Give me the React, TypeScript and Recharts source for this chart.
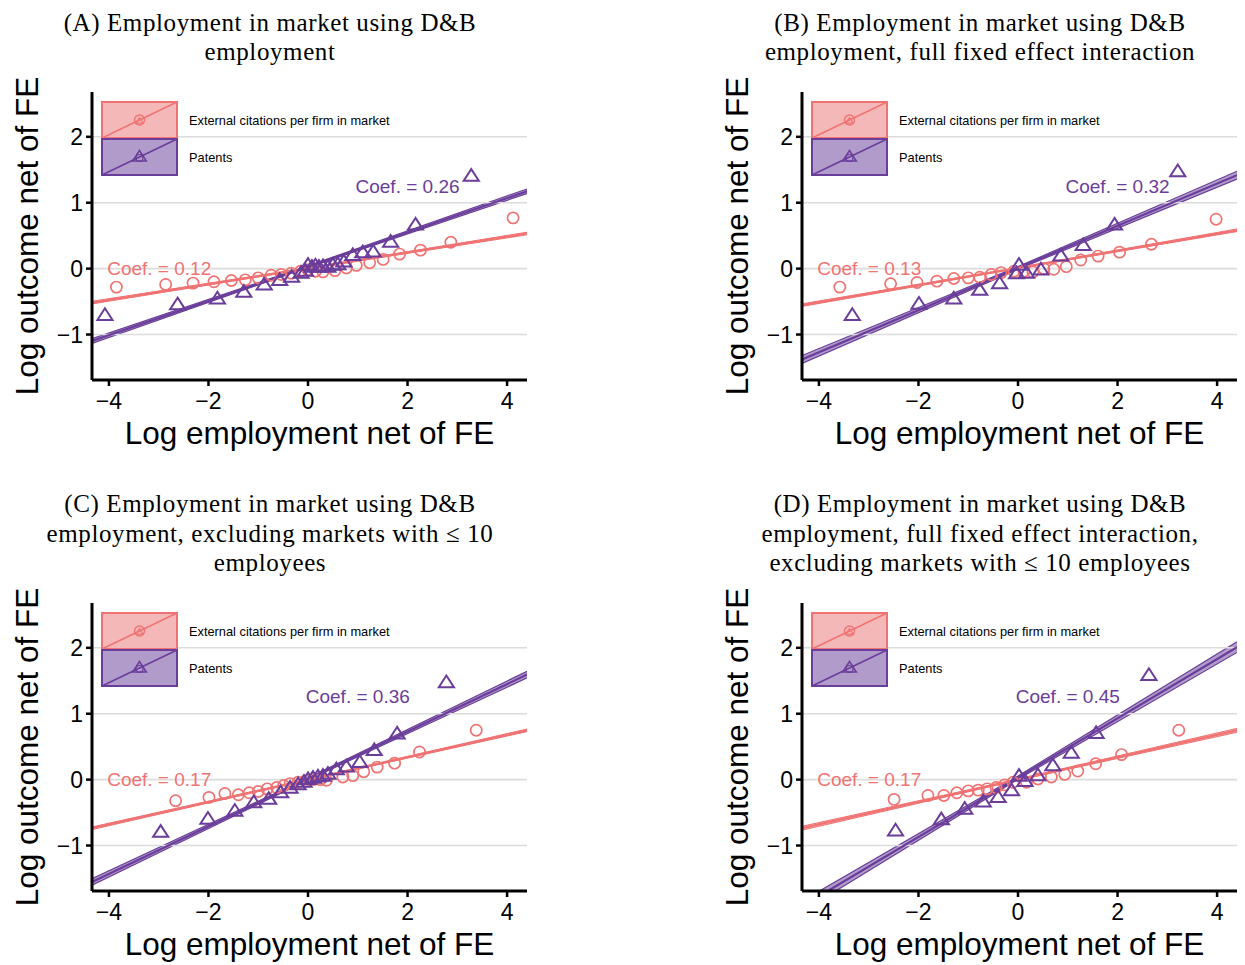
import React from 'react';
import { ComposedChart, Scatter, Line, Area, XAxis, YAxis, ReferenceLine, ReferenceDot } from 'recharts';

const RED = '#F07373';
const RED_FILL = '#F5B8B8';
const PURPLE = '#6A3D9A';
const PURPLE_FILL = '#B09BCB';
const GRID = '#DCDCDC';
const SANS = '"Liberation Sans", Arial, Helvetica, sans-serif';
const SERIF = '"Liberation Serif", "Times New Roman", serif';

// ---------- Panel A ----------
const citAX = [-3.85, -2.86, -2.31, -1.89, -1.54, -1.26, -1.0, -0.74, -0.54, -0.34, -0.15, 0.0, 0.15, 0.30, 0.54, 0.77, 0.97, 1.24, 1.51, 1.84, 2.26, 2.87, 4.12];
const citAY = [-0.28, -0.24, -0.22, -0.20, -0.18, -0.17, -0.14, -0.10, -0.09, -0.07, -0.04, -0.02, -0.04, -0.05, -0.03, 0.01, 0.05, 0.09, 0.14, 0.22, 0.28, 0.40, 0.77];
const patAX = [-4.08, -2.62, -1.82, -1.29, -0.88, -0.57, -0.33, -0.14, -0.05, 0.0, 0.08, 0.15, 0.22, 0.30, 0.40, 0.50, 0.60, 0.72, 0.90, 1.10, 1.31, 1.66, 2.16, 3.28];
const patAY = [-0.71, -0.55, -0.46, -0.36, -0.25, -0.18, -0.13, -0.07, -0.04, 0.05, 0.02, 0.04, 0.02, 0.03, 0.02, 0.05, 0.06, 0.10, 0.20, 0.24, 0.25, 0.40, 0.66, 1.40];

// ---------- Panel B ----------
const citBX = [-3.58, -2.56, -2.03, -1.63, -1.29, -1.0, -0.77, -0.54, -0.34, -0.08, 0.12, 0.30, 0.52, 0.72, 0.97, 1.26, 1.61, 2.04, 2.68, 3.98];
const citBY = [-0.28, -0.23, -0.21, -0.19, -0.15, -0.14, -0.13, -0.09, -0.06, -0.04, -0.04, -0.05, 0.0, -0.01, 0.03, 0.13, 0.19, 0.25, 0.37, 0.75];
const patBX = [-3.33, -1.99, -1.29, -0.77, -0.37, -0.03, 0.02, 0.17, 0.46, 0.86, 1.31, 1.94, 3.21];
const patBY = [-0.71, -0.54, -0.46, -0.33, -0.23, -0.08, 0.05, -0.07, -0.02, 0.19, 0.35, 0.66, 1.47];

// ---------- Panel C ----------
const citCX = [-2.66, -1.99, -1.67, -1.40, -1.18, -1.0, -0.82, -0.63, -0.49, -0.36, -0.20, -0.05, 0.10, 0.25, 0.37, 0.70, 0.90, 1.12, 1.39, 1.74, 2.24, 3.38];
const citCY = [-0.32, -0.27, -0.21, -0.23, -0.20, -0.18, -0.14, -0.12, -0.09, -0.06, -0.04, -0.02, 0.0, 0.0, -0.01, 0.04, 0.06, 0.12, 0.19, 0.25, 0.42, 0.75];
const patCX = [-2.96, -2.01, -1.47, -1.09, -0.79, -0.55, -0.36, -0.20, -0.08, 0.0, 0.10, 0.20, 0.30, 0.40, 0.57, 0.77, 1.04, 1.33, 1.79, 2.78];
const patCY = [-0.80, -0.60, -0.48, -0.35, -0.30, -0.20, -0.13, -0.08, -0.04, 0.0, 0.02, 0.04, 0.05, 0.08, 0.15, 0.19, 0.26, 0.44, 0.69, 1.47];

// ---------- Panel D ----------
const citDX = [-2.49, -1.81, -1.49, -1.23, -1.0, -0.80, -0.62, -0.44, -0.27, -0.10, 0.17, 0.40, 0.67, 0.94, 1.20, 1.56, 2.08, 3.23];
const citDY = [-0.30, -0.24, -0.24, -0.20, -0.17, -0.16, -0.14, -0.12, -0.08, -0.04, -0.04, 0.01, 0.04, 0.08, 0.13, 0.24, 0.38, 0.75];
const patDX = [-2.46, -1.54, -1.07, -0.70, -0.40, -0.13, 0.02, 0.14, 0.40, 0.70, 1.07, 1.57, 2.63];
const patDY = [-0.78, -0.61, -0.45, -0.34, -0.27, -0.17, 0.05, -0.03, 0.06, 0.21, 0.40, 0.70, 1.58];

// Regression fits (coefficient = slope), intercepts and CI half-widths (ends, centre)
const coefCit = [0.12, 0.13, 0.17, 0.17];
const coefPat = [0.26, 0.32, 0.36, 0.45];
const interceptCit = [0.005, 0.01, 0.0, 0.0];
const interceptPat = [0.03, 0.01, 0.01, 0.03];
const bandCitEnd = [0.02, 0.02, 0.02, 0.03];
const bandCitMid = [0.008, 0.008, 0.008, 0.01];
const bandPatEnd = [0.035, 0.06, 0.05, 0.08];
const bandPatMid = [0.012, 0.02, 0.015, 0.025];

// Coefficient label positions (data coords)
const coefPatPosX = [2.0, 2.0, 1.0, 1.0];
const coefPatPosY = [1.25, 1.25, 1.26, 1.26];
const coefCitPosX = [-2.99, -2.99, -2.99, -2.99];
const coefCitPosY = [0.0, 0.0, 0.0, 0.0];

const titles = [
  ['(A) Employment in market using D&B', 'employment'],
  ['(B) Employment in market using D&B', 'employment, full fixed effect interaction'],
  ['(C) Employment in market using D&B', 'employment, excluding markets with \u2264 10', 'employees'],
  ['(D) Employment in market using D&B', 'employment, full fixed effect interaction,', 'excluding markets with \u2264 10 employees'],
];

const legendLabels = ['External citations per firm in market', 'Patents'];
const xLabel = 'Log employment net of FE';
const yLabel = 'Log outcome net of FE';

const X_DOMAIN = [-4.34, 4.4];
const Y_DOMAIN = [-1.69, 2.68];
const X_TICKS = [-4, -2, 0, 2, 4];
const Y_TICKS = [-1, 0, 1, 2];
const FIT_X = [-4.34, 0, 4.4];

const CHART_W = 535;
const CHART_H = 470;
const MARGIN = { top: 92, right: 8, bottom: 50, left: 32 };
const PANEL_POS = [
  [0, 0],
  [710, 0],
  [0, 511],
  [710, 511],
];

const cits = [
  [citAX, citAY],
  [citBX, citBY],
  [citCX, citCY],
  [citDX, citDY],
];
const pats = [
  [patAX, patAY],
  [patBX, patBY],
  [patCX, patCY],
  [patDX, patDY],
];

const fmt = (v: number) => (v < 0 ? '\u2212' + Math.abs(v) : String(v));

const circleShape = (props: any) => (
  <circle cx={props.cx} cy={props.cy} r={5.6} fill="none" stroke={RED} strokeWidth={1.7} />
);
const triPoints = (cx: number, cy: number, s: number) =>
  `${cx},${cy - s} ${cx - s * 1.05},${cy + s * 0.62} ${cx + s * 1.05},${cy + s * 0.62}`;
const triangleShape = (props: any) => (
  <polygon points={triPoints(props.cx, props.cy, 7.2)} fill="none" stroke={PURPLE} strokeWidth={2} strokeLinejoin="miter" />
);

function Panel({ i }: { i: number }) {
  const [left, top] = PANEL_POS[i];
  const cit = cits[i][0].map((x, k) => ({ x, y: cits[i][1][k] }));
  const pat = pats[i][0].map((x, k) => ({ x, y: pats[i][1][k] }));
  const citLine = FIT_X.map((x) => ({ x, y: interceptCit[i] + coefCit[i] * x }));
  const patLine = FIT_X.map((x) => ({ x, y: interceptPat[i] + coefPat[i] * x }));
  const citBand = FIT_X.map((x, k) => {
    const h = k === 1 ? bandCitMid[i] : bandCitEnd[i];
    const y = interceptCit[i] + coefCit[i] * x;
    return { x, band: [y - h, y + h] };
  });
  const patBand = FIT_X.map((x, k) => {
    const h = k === 1 ? bandPatMid[i] : bandPatEnd[i];
    const y = interceptPat[i] + coefPat[i] * x;
    return { x, band: [y - h, y + h] };
  });
  return (
    <div style={{ position: 'absolute', left, top, width: CHART_W, height: CHART_H }}>
      <ComposedChart width={CHART_W} height={CHART_H} margin={MARGIN}>
        {Y_TICKS.map((v) => (
          <ReferenceLine key={v} y={v} stroke={GRID} strokeWidth={1.6} />
        ))}
        <XAxis
          type="number"
          dataKey="x"
          domain={X_DOMAIN}
          ticks={X_TICKS}
          allowDataOverflow
          height={40}
          tickFormatter={fmt}
          tick={{ fill: '#000', fontSize: 23, fontFamily: SANS }}
          axisLine={{ stroke: '#000', strokeWidth: 3 }}
          tickLine={{ stroke: '#000', strokeWidth: 2.5 }}
          tickSize={6}
          tickMargin={7}
        />
        <YAxis
          type="number"
          dataKey="y"
          domain={Y_DOMAIN}
          ticks={Y_TICKS}
          allowDataOverflow
          width={60}
          tickFormatter={fmt}
          tick={{ fill: '#000', fontSize: 23, fontFamily: SANS }}
          axisLine={{ stroke: '#000', strokeWidth: 3 }}
          tickLine={{ stroke: '#000', strokeWidth: 2.5 }}
          tickSize={6}
          tickMargin={3}
        />
        <Scatter data={cit} dataKey="y" shape={circleShape} isAnimationActive={false} />
        <Scatter data={pat} dataKey="y" shape={triangleShape} isAnimationActive={false} />
        <Area
          data={citBand}
          dataKey="band"
          type="linear"
          fill={RED_FILL}
          fillOpacity={1}
          stroke={RED}
          strokeWidth={1}
          isAnimationActive={false}
          activeDot={false}
        />
        <Line data={citLine} dataKey="y" type="linear" stroke={RED} strokeWidth={2.2} dot={false} activeDot={false} isAnimationActive={false} />
        <Area
          data={patBand}
          dataKey="band"
          type="linear"
          fill={PURPLE_FILL}
          fillOpacity={1}
          stroke={PURPLE}
          strokeWidth={1.2}
          isAnimationActive={false}
          activeDot={false}
        />
        <Line data={patLine} dataKey="y" type="linear" stroke={PURPLE} strokeWidth={2.2} dot={false} activeDot={false} isAnimationActive={false} />
        <ReferenceDot
          x={coefCitPosX[i]}
          y={coefCitPosY[i]}
          r={0}
          fill="none"
          stroke="none"
          label={{ value: `Coef. = ${coefCit[i].toFixed(2)}`, position: 'center', fill: RED, fontSize: 19, fontFamily: SANS }}
        />
        <ReferenceDot
          x={coefPatPosX[i]}
          y={coefPatPosY[i]}
          r={0}
          fill="none"
          stroke="none"
          label={{ value: `Coef. = ${coefPat[i].toFixed(2)}`, position: 'center', fill: PURPLE, fontSize: 19, fontFamily: SANS }}
        />
      </ComposedChart>
    </div>
  );
}

function Overlay() {
  const plotLeft = MARGIN.left + 60;
  const plotRight = CHART_W - MARGIN.right;
  const plotTop = MARGIN.top;
  const plotBottom = CHART_H - MARGIN.bottom - 40;
  return (
    <svg width={1245} height={965} style={{ position: 'absolute', left: 0, top: 0, pointerEvents: 'none' }}>
      {PANEL_POS.map(([dx, dy], i) => {
        const t = titles[i];
        const n = t.length;
        const pl = dx + plotLeft;
        const pr = dx + plotRight;
        const pt = dy + plotTop;
        const pb = dy + plotBottom;
        const pcx = dx + (plotLeft + plotRight) / 2;
        const lx = pl + 10;
        const ly = pt + 10;
        return (
          <g key={i}>
            {/* keep the top edge of the panel clean */}
            <line x1={pl + 2} y1={pt} x2={pr + 1} y2={pt} stroke="#fff" strokeWidth={3} />
            {t.map((line, k) => (
              <text
                key={k}
                x={dx + 270}
                y={pt - 32 - (n - 1 - k) * 29.3}
                textAnchor="middle"
                fontFamily={SERIF}
                fontSize={25}
                letterSpacing={0.6}
                fill="#000"
              >
                {line}
              </text>
            ))}
            <text
              x={0}
              y={0}
              transform={`translate(${dx + 38},${(pt + pb) / 2}) rotate(-90)`}
              textAnchor="middle"
              fontFamily={SANS}
              fontSize={31.5}
              fill="#000"
            >
              {yLabel}
            </text>
            <text x={pcx} y={pb + 64} textAnchor="middle" fontFamily={SANS} fontSize={31.5} fill="#000">
              {xLabel}
            </text>
            {/* legend */}
            <rect x={lx} y={ly} width={75} height={36} fill={RED_FILL} stroke={RED} strokeWidth={2} />
            <line x1={lx} y1={ly + 36} x2={lx + 75} y2={ly} stroke={RED} strokeWidth={1.5} />
            <circle cx={lx + 37.5} cy={ly + 18} r={5} fill="none" stroke={RED} strokeWidth={1.5} />
            <polygon points={triPoints(lx + 37.5, ly + 19, 3.5)} fill="none" stroke={RED} strokeWidth={1.2} />
            <rect x={lx} y={ly + 37} width={75} height={36} fill={PURPLE_FILL} stroke={PURPLE} strokeWidth={2} />
            <line x1={lx} y1={ly + 73} x2={lx + 75} y2={ly + 37} stroke={PURPLE} strokeWidth={1.5} />
            <polygon points={triPoints(lx + 37.5, ly + 55, 6.5)} fill="none" stroke={PURPLE} strokeWidth={1.5} />
            <circle cx={lx + 37.5} cy={ly + 56} r={3.5} fill="none" stroke={PURPLE} strokeWidth={1.2} />
            <text x={lx + 87} y={ly + 22.5} fontFamily={SANS} fontSize={12.8} fill="#000">
              {legendLabels[0]}
            </text>
            <text x={lx + 87} y={ly + 59.5} fontFamily={SANS} fontSize={12.8} fill="#000">
              {legendLabels[1]}
            </text>
          </g>
        );
      })}
    </svg>
  );
}

export default function App() {
  return (
    <div style={{ position: 'absolute', left: 0, top: 0, width: 1245, height: 965, background: '#fff', overflow: 'hidden' }}>
      {[0, 1, 2, 3].map((i) => (
        <Panel key={i} i={i} />
      ))}
      <Overlay />
    </div>
  );
}
